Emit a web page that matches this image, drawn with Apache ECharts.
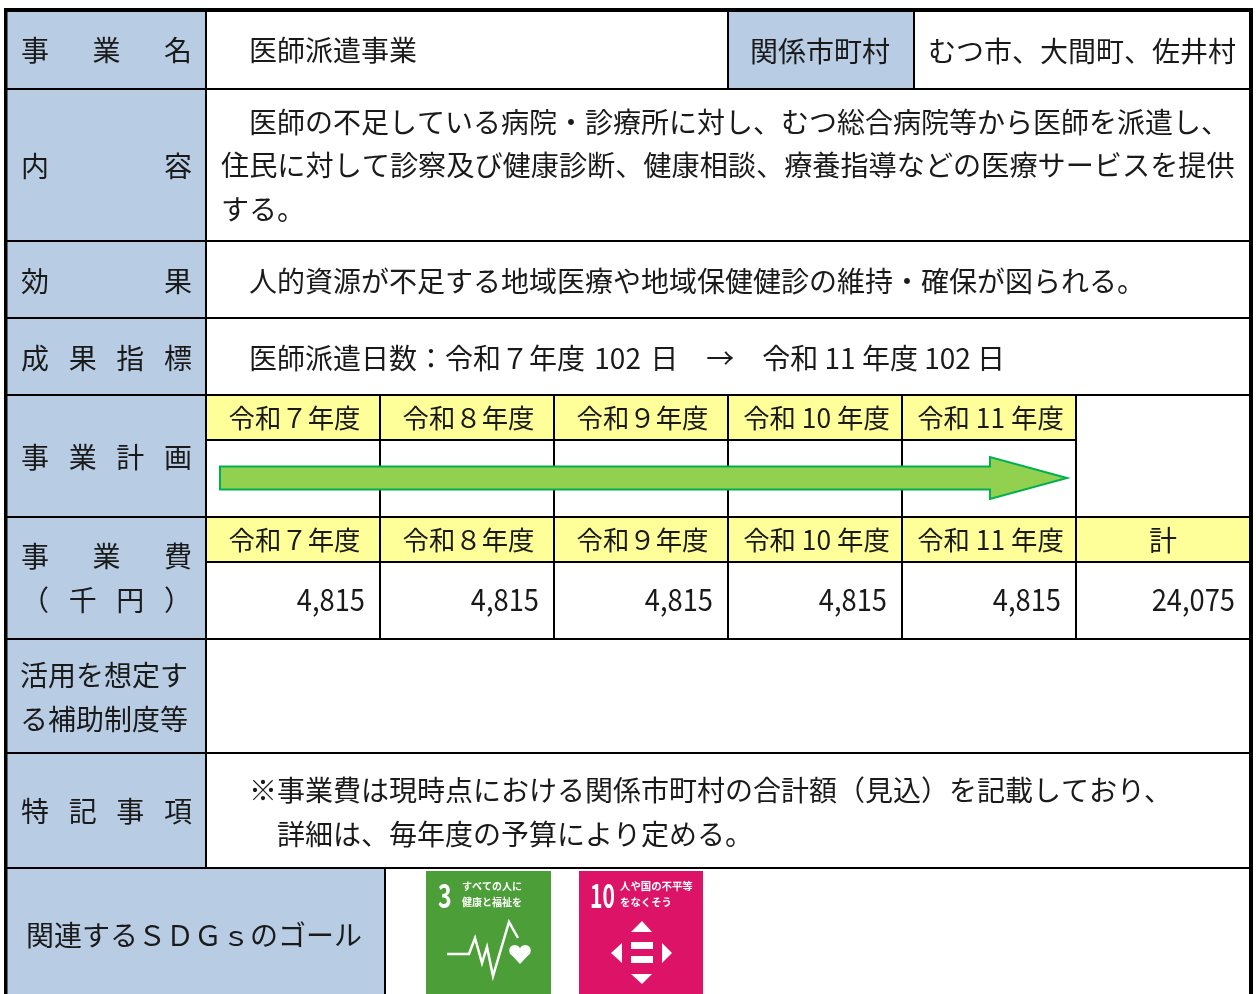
<!DOCTYPE html>
<html>
<head>
<meta charset="utf-8">
<title>医師派遣事業</title>
<style>
  html, body { margin: 0; padding: 0; background: #fff; }
  #main { width: 1256px; height: 994px; }
</style>
<script src="https://cdn.jsdelivr.net/npm/echarts@6/dist/echarts.min.js"></script>
</head>
<body>
<div id="main"></div>
<script>
// table contents
const projectName = '医師派遣事業';
const relatedLabel = '関係市町村';
const relatedTowns = 'むつ市、大間町、佐井村';
const contentLines = [
  '医師の不足している病院・診療所に対し、むつ総合病院等から医師を派遣し、',
  '住民に対して診察及び健康診断、健康相談、療養指導などの医療サービスを提供',
  'する。'
];
const effectText = '人的資源が不足する地域医療や地域保健健診の維持・確保が図られる。';
const indicatorText = '医師派遣日数：令和７年度\u2004102\u2004日　→　令和 11 年度 102 日';
const years = ['令和７年度', '令和８年度', '令和９年度', '令和 10 年度', '令和 11 年度'];
const costs = [4815, 4815, 4815, 4815, 4815];
const costTotal = 24075;
const totalLabel = '計';
const subsidyLabel = ['活用を想定す', 'る補助制度等'];
const noteLines = [
  '※事業費は現時点における関係市町村の合計額（見込）を記載しており、',
  '詳細は、毎年度の予算により定める。'
];
const sdgsLabel = '関連するＳＤＧｓのゴール';
const goal3 = ['3', 'すべての人に', '健康と福祉を'];
const goal10 = ['10', '人や国の不平等', 'をなくそう'];

// layout of the sheet
const W = 1256, H = 994;
const LEFT = 6, RIGHT = 1251, TOP = 10;
const LABEL_X = 206;
const rowY = [89, 241, 318, 395, 517, 639, 753, 868];
const colX = [206, 380, 554, 728, 902, 1076];
const BLUE = '#b8cce4', YELLOW = '#ffff99', INK = '#1a1a1a';
const FONT = '"Noto Sans CJK JP", sans-serif';

const items = [];

function rect(x0, y0, x1, y1, fill) {
  items.push({ type: 'rect', silent: true, shape: { x: x0, y: y0, width: x1 - x0, height: y1 - y0 }, style: { fill: fill } });
}
function line(x0, y0, x1, y1, w) {
  items.push({ type: 'line', silent: true, shape: { x1: x0, y1: y0, x2: x1, y2: y1 }, style: { stroke: '#000', lineWidth: w || 2 } });
}
// the element carries the position so scaleX squeezes around the anchor
function text(str, x, y, align, size, fill, weight, scaleX) {
  items.push({
    type: 'text', silent: true, x: x, y: y, scaleX: scaleX || 1,
    style: {
      text: str, x: 0, y: 0, align: align || 'left', verticalAlign: 'middle',
      fill: fill || INK, font: (weight || 'normal') + ' ' + (size || 28) + 'px ' + FONT
    }
  });
}
// spreads the characters evenly over the label cell, like a justified cell
function spread(str, y) {
  const chars = Array.from(str);
  const x0 = 35, x1 = 178;
  chars.forEach((c, i) => text(c, x0 + (x1 - x0) * i / (chars.length - 1), y, 'center'));
}
function poly(points, fill) {
  items.push({ type: 'polygon', silent: true, shape: { points: points }, style: { fill: fill } });
}
function money(v) {
  return v.toLocaleString('en-US');
}

// cell fills
rect(LEFT, TOP, LABEL_X, rowY[7], BLUE);
rect(LEFT, rowY[7], 385, H, BLUE);
rect(728, TOP, 914, rowY[0], BLUE);
rect(colX[0], rowY[3], colX[5], 440, YELLOW);
rect(colX[0], rowY[4], RIGHT, 562, YELLOW);

// rules
rowY.forEach(y => line(LEFT, y, RIGHT, y));
line(LABEL_X, TOP, LABEL_X, rowY[7]);
line(728, TOP, 728, rowY[0]);
line(914, TOP, 914, rowY[0]);
line(385, rowY[7], 385, H);
colX.slice(1).forEach(x => line(x, rowY[3], x, rowY[5]));
line(colX[0], 440, colX[5], 440);
line(colX[0], 562, RIGHT, 562);

// outer frame, no bottom edge in the crop
line(5.75, TOP - 2, 5.75, H, 3.5);
line(1251, TOP - 2, 1251, H, 4);
line(4, 10, 1253, 10, 4);

// arrow over the plan years
const arrowY = 478;
items.push({
  type: 'polygon', silent: true,
  shape: {
    points: [
      [220, arrowY - 11.5], [990, arrowY - 11.5], [990, arrowY - 21], [1067, arrowY],
      [990, arrowY + 21], [990, arrowY + 11.5], [220, arrowY + 11.5]
    ]
  },
  style: { fill: '#92d050', stroke: '#00b050', lineWidth: 2 }
});

// label column
spread('事業名', 50);
spread('内容', 166);
spread('効果', 281);
spread('成果指標', 358);
spread('事業計画', 457);
spread('事業費', 556);
spread('（千円）', 600);
subsidyLabel.forEach((s, i) => text(s, 20, [675, 719][i]));
spread('特記事項', 811);
text(sdgsLabel, 26, 935);

// body text
text(projectName, 249, 50);
text(relatedLabel, 750, 51);
text(relatedTowns, 928, 51);
text(contentLines[0], 249, 122);
text(contentLines[1], 221, 165, 'left', 28.17);
text(contentLines[2], 221, 209);
text(effectText, 249, 281);
text(indicatorText, 249, 358);
text(noteLines[0], 249, 790);
text(noteLines[1], 277, 834);

// plan and cost grids
years.forEach((y, i) => {
  const cx = (colX[i] + colX[i + 1]) / 2 + 1.5;
  text(y, cx, 418, 'center', 26.4);
  text(y, cx, 540, 'center', 26.4);
  text(money(costs[i]), colX[i + 1] - 15, 599, 'right', 31, INK, 'normal', 0.88);
});
text(totalLabel, 1163, 540, 'center');
text(money(costTotal), 1235, 599, 'right', 31, INK, 'normal', 0.88);

// SDG goal 3 tile
rect(426, 871, 551, H, '#4c9f38');
text(goal3[0], 438, 895, 'left', 33, '#fff', 'bold', 0.7);
text(goal3[1], 462, 886, 'left', 10, '#fff', 'bold');
text(goal3[2], 462, 902, 'left', 10, '#fff', 'bold');
items.push({
  type: 'polyline', silent: true,
  shape: { points: [[447, 954], [469, 954], [475, 938], [482, 963], [487, 947], [493, 976], [509, 922], [518, 938]] },
  style: { fill: 'none', stroke: '#fff', lineWidth: 2.5 }
});
// heart from two circles and a wedge
items.push({ type: 'circle', silent: true, shape: { cx: 514.8, cy: 950.5, r: 5.6 }, style: { fill: '#fff' } });
items.push({ type: 'circle', silent: true, shape: { cx: 525.2, cy: 950.5, r: 5.6 }, style: { fill: '#fff' } });
poly([[509.7, 953], [530.3, 953], [520, 964]], '#fff');

// SDG goal 10 tile
rect(579, 871, 703, H, '#dd1367');
text(goal10[0], 590, 895, 'left', 33, '#fff', 'bold', 0.64);
text(goal10[1], 620, 886, 'left', 10.4, '#fff', 'bold');
text(goal10[2], 620, 902, 'left', 10.4, '#fff', 'bold');
poly([[631, 932], [652, 932], [642, 921]], '#fff');
poly([[631, 974], [652, 974], [642, 984]], '#fff');
poly([[622, 943], [622, 963], [611, 953]], '#fff');
poly([[662, 943], [662, 963], [672, 953]], '#fff');
rect(631, 942, 653, 949, '#fff');
rect(631, 956, 653, 963, '#fff');

const chart = echarts.init(document.getElementById('main'), null, { renderer: 'canvas' });
chart.setOption({
  backgroundColor: '#fff',
  animation: false,
  graphic: { elements: items }
});
</script>
</body>
</html>
